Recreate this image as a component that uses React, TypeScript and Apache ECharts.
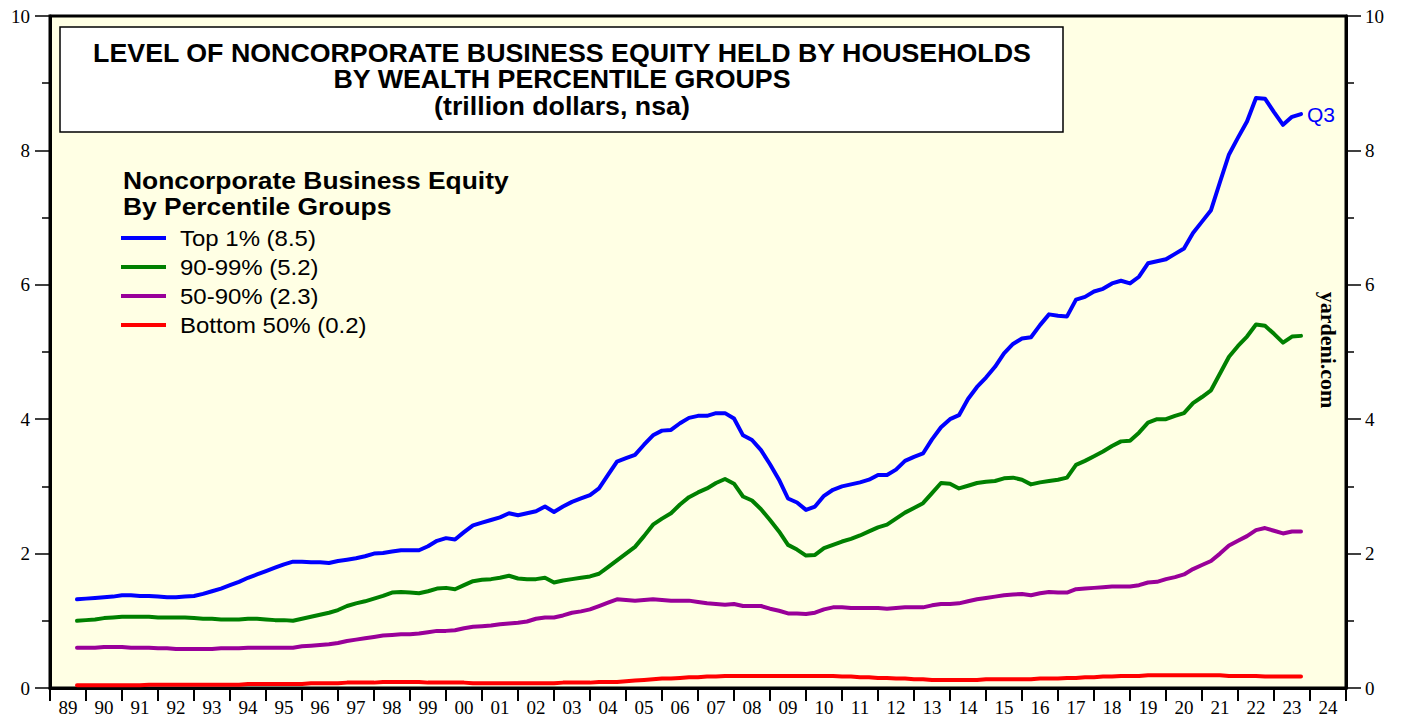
import React, { useEffect, useRef } from "react";
import * as echarts from "echarts";

const yearLabels = ["89","90","91","92","93","94","95","96","97","98","99","00","01","02","03","04","05","06","07","08","09","10","11","12","13","14","15","16","17","18","19","20","21","22","23","24"];

// quarterly, first observation 1989 Q3, last 2023 Q3
const FIRST_QUARTER = 1989.75;

const top1 = [
  1.32,1.33,1.34,1.35,1.36,1.38,1.38,1.37,1.37,1.36,1.35,1.35,1.36,1.37,1.40,1.44,1.48,1.53,1.58,1.64,
  1.69,1.74,1.79,1.84,1.88,1.88,1.87,1.87,1.86,1.89,1.91,1.93,1.96,2.00,2.01,2.03,2.05,2.05,2.05,2.11,
  2.19,2.23,2.21,2.32,2.42,2.46,2.50,2.54,2.60,2.57,2.60,2.63,2.70,2.62,2.70,2.77,2.82,2.87,2.97,3.17,
  3.37,3.42,3.47,3.62,3.76,3.83,3.84,3.94,4.02,4.05,4.05,4.09,4.09,4.01,3.76,3.69,3.54,3.33,3.10,2.82,
  2.76,2.65,2.70,2.86,2.95,3.00,3.03,3.06,3.10,3.17,3.17,3.25,3.38,3.44,3.49,3.70,3.88,4.00,4.06,4.30,
  4.48,4.62,4.78,4.98,5.12,5.20,5.22,5.40,5.56,5.54,5.53,5.78,5.82,5.90,5.94,6.02,6.06,6.02,6.12,6.32,
  6.35,6.38,6.46,6.54,6.77,6.94,7.11,7.53,7.94,8.19,8.43,8.78,8.77,8.57,8.38,8.50,8.54
];

const next9 = [
  1.00,1.01,1.02,1.04,1.05,1.06,1.06,1.06,1.06,1.05,1.05,1.05,1.05,1.04,1.03,1.03,1.02,1.02,1.02,1.03,
  1.03,1.02,1.01,1.01,1.00,1.03,1.06,1.09,1.12,1.16,1.22,1.26,1.29,1.33,1.37,1.42,1.43,1.42,1.41,1.44,
  1.48,1.49,1.47,1.53,1.59,1.61,1.62,1.64,1.67,1.63,1.62,1.62,1.64,1.57,1.60,1.62,1.64,1.66,1.70,1.80,
  1.90,2.00,2.10,2.26,2.43,2.52,2.60,2.73,2.84,2.91,2.97,3.05,3.11,3.04,2.85,2.79,2.66,2.50,2.33,2.13,
  2.06,1.97,1.98,2.08,2.13,2.18,2.22,2.27,2.33,2.39,2.43,2.52,2.61,2.68,2.75,2.90,3.05,3.04,2.97,3.01,
  3.05,3.07,3.08,3.12,3.13,3.10,3.03,3.06,3.08,3.10,3.13,3.32,3.38,3.45,3.52,3.60,3.67,3.68,3.80,3.95,
  4.00,4.00,4.05,4.09,4.24,4.33,4.43,4.68,4.93,5.09,5.23,5.41,5.39,5.27,5.14,5.23,5.24
];

const middle40 = [
  0.60,0.60,0.60,0.61,0.61,0.61,0.60,0.60,0.60,0.59,0.59,0.58,0.58,0.58,0.58,0.58,0.59,0.59,0.59,0.60,
  0.60,0.60,0.60,0.60,0.60,0.62,0.63,0.64,0.65,0.67,0.70,0.72,0.74,0.76,0.78,0.79,0.80,0.80,0.81,0.83,
  0.85,0.85,0.86,0.89,0.91,0.92,0.93,0.95,0.96,0.97,0.99,1.03,1.05,1.05,1.08,1.12,1.14,1.17,1.22,1.27,
  1.32,1.31,1.30,1.31,1.32,1.31,1.30,1.30,1.30,1.28,1.26,1.25,1.24,1.25,1.22,1.22,1.22,1.18,1.15,1.11,
  1.11,1.10,1.12,1.17,1.20,1.20,1.19,1.19,1.19,1.19,1.18,1.19,1.20,1.20,1.20,1.23,1.25,1.25,1.26,1.29,
  1.32,1.34,1.36,1.38,1.39,1.40,1.38,1.41,1.43,1.42,1.42,1.47,1.48,1.49,1.50,1.51,1.51,1.51,1.53,1.57,
  1.58,1.62,1.65,1.69,1.77,1.83,1.89,2.00,2.12,2.19,2.26,2.35,2.38,2.34,2.30,2.33,2.33
];

const bottom50 = [
  0.04,0.04,0.04,0.04,0.04,0.04,0.04,0.04,0.05,0.05,0.05,0.05,0.05,
  0.05,0.05,0.05,0.05,0.05,0.05,0.06,0.06,0.06,0.06,0.06,0.06,
  0.06,0.07,0.07,0.07,0.07,0.08,0.08,0.08,0.08,0.09,0.09,0.09,
  0.09,0.09,0.08,0.08,0.08,0.08,0.08,0.07,0.07,0.07,0.07,0.07,
  0.07,0.07,0.07,0.07,0.07,0.08,0.08,0.08,0.08,0.09,0.09,0.09,
  0.10,0.11,0.12,0.13,0.14,0.14,0.15,0.16,0.16,0.17,0.17,0.18,
  0.18,0.18,0.18,0.18,0.18,0.18,0.18,0.18,0.18,0.18,0.18,0.18,
  0.17,0.17,0.16,0.16,0.15,0.15,0.14,0.14,0.13,0.13,0.12,0.12,
  0.12,0.12,0.12,0.12,0.13,0.13,0.13,0.13,0.13,0.13,0.14,0.14,
  0.14,0.15,0.15,0.16,0.16,0.17,0.17,0.18,0.18,0.18,0.19,0.19,
  0.19,0.19,0.19,0.19,0.19,0.19,0.19,0.18,0.18,0.18,0.18,0.17,0.17,0.17,0.17,0.17
];

const seriesNames = ["Top 1% (8.5)", "90-99% (5.2)", "50-90% (2.3)", "Bottom 50% (0.2)"];
const seriesColors = ["#0000ff", "#008000", "#990099", "#ff0000"];
const titleLines = [
  "LEVEL OF NONCORPORATE BUSINESS EQUITY HELD BY HOUSEHOLDS",
  "BY WEALTH PERCENTILE GROUPS",
  "(trillion dollars, nsa)",
];
const legendTitle = ["Noncorporate Business Equity", "By Percentile Groups"];

const toPoints = (vals: number[]) => vals.map((v, i) => [FIRST_QUARTER + i * 0.25, v]);

const SERIF = "'Liberation Serif', 'Times New Roman', serif";
const SANS = "'Liberation Sans', Arial, sans-serif";

export default function App() {
  const ref = useRef<HTMLDivElement>(null);
  useEffect(() => {
    if (!ref.current) return;
    const chart = echarts.init(ref.current, null, { renderer: "svg" });
    const allData = [top1, next9, middle40, bottom50];

    const legendGraphics: any[] = [];
    legendTitle.forEach((t, i) => {
      legendGraphics.push({
        type: "text", x: 123, y: 180 + i * 26, scaleX: 1.1,
        style: { text: t, font: `bold 24px ${SANS}`, fill: "#000", verticalAlign: "middle" },
      });
    });
    seriesNames.forEach((n, i) => {
      const y = 238 + i * 29;
      legendGraphics.push({
        type: "line", shape: { x1: 121, y1: y, x2: 166, y2: y },
        style: { stroke: seriesColors[i], lineWidth: 4 },
      });
      legendGraphics.push({
        type: "text", x: 180, y: y, scaleX: 1.09,
        style: { text: n, font: `22px ${SANS}`, fill: "#000", verticalAlign: "middle" },
      });
    });

    const option: any = {
      animation: false,
      backgroundColor: "#ffffff",
      grid: {
        left: 50, top: 16, width: 1296, height: 672,
        show: true, backgroundColor: "#ffffe4", borderColor: "#000", borderWidth: 3,
      },
      xAxis: [
        {
          type: "value", min: 1989, max: 2025, interval: 1, position: "bottom",
          axisLine: { show: true, lineStyle: { color: "#000", width: 3 } },
          axisTick: { show: true, length: 13, lineStyle: { color: "#000", width: 2 } },
          axisLabel: { show: false },
          splitLine: { show: false },
        },
        {
          type: "category", data: yearLabels, position: "bottom", boundaryGap: true,
          axisLine: { show: false }, axisTick: { show: false },
          axisLabel: { show: true, interval: 0, color: "#000", fontFamily: SERIF, fontSize: 19, margin: 10 },
          splitLine: { show: false },
        },
      ],
      yAxis: [
        {
          type: "value", min: 0, max: 10, interval: 2, position: "left",
          axisLine: { show: true, lineStyle: { color: "#000", width: 3 } },
          axisTick: { show: true, length: 15, lineStyle: { color: "#000", width: 1.5 } },
          minorTick: { show: true, splitNumber: 2, length: 8, lineStyle: { color: "#000", width: 1.5 } },
          axisLabel: { color: "#000", fontFamily: SERIF, fontSize: 19, margin: 20 },
          splitLine: { show: false },
        },
        {
          type: "value", min: 0, max: 10, interval: 2, position: "right",
          axisLine: { show: true, lineStyle: { color: "#000", width: 3 } },
          axisTick: { show: true, length: 15, lineStyle: { color: "#000", width: 1.5 } },
          minorTick: { show: true, splitNumber: 2, length: 8, lineStyle: { color: "#000", width: 1.5 } },
          axisLabel: { color: "#000", fontFamily: SERIF, fontSize: 19, margin: 19 },
          splitLine: { show: false },
        },
      ],
      series: allData.map((vals, i) => ({
        name: seriesNames[i],
        type: "line",
        xAxisIndex: 0, yAxisIndex: 0,
        data: toPoints(vals),
        showSymbol: false, symbol: "none",
        lineStyle: { color: seriesColors[i], width: 4, join: "round", cap: "round" },
        itemStyle: { color: seriesColors[i] },
        z: 10 - i,
        endLabel: i === 0 ? {
          show: true, formatter: "Q3", color: "#0000ff", fontFamily: SANS, fontSize: 21, distance: 6,
        } : undefined,
      })),
      graphic: [
        {
          type: "rect", shape: { x: 60, y: 27, width: 1003, height: 105 },
          style: { fill: "#ffffff", stroke: "#000", lineWidth: 1.5 }, z: 20,
        },
        ...titleLines.map((t, i) => ({
          type: "text", x: 562, y: 53 + i * 26.5, z: 21, scaleX: 1.03,
          style: { text: t, font: `bold 26px ${SANS}`, fill: "#000", textAlign: "center", verticalAlign: "middle" },
        })),
        ...legendGraphics.map((g) => ({ ...g, z: 21 })),
        {
          type: "text", x: 1328, y: 350, rotation: -Math.PI / 2, z: 21,
          style: { text: "yardeni.com", font: `bold 22px ${SERIF}`, fill: "#000", textAlign: "center", verticalAlign: "middle" },
        },
      ],
    };
    chart.setOption(option);
    return () => chart.dispose();
  }, []);
  return (
    <div
      ref={ref}
      style={{ position: "fixed", left: 0, top: 0, width: 1405, height: 721 }}
    />
  );
}
